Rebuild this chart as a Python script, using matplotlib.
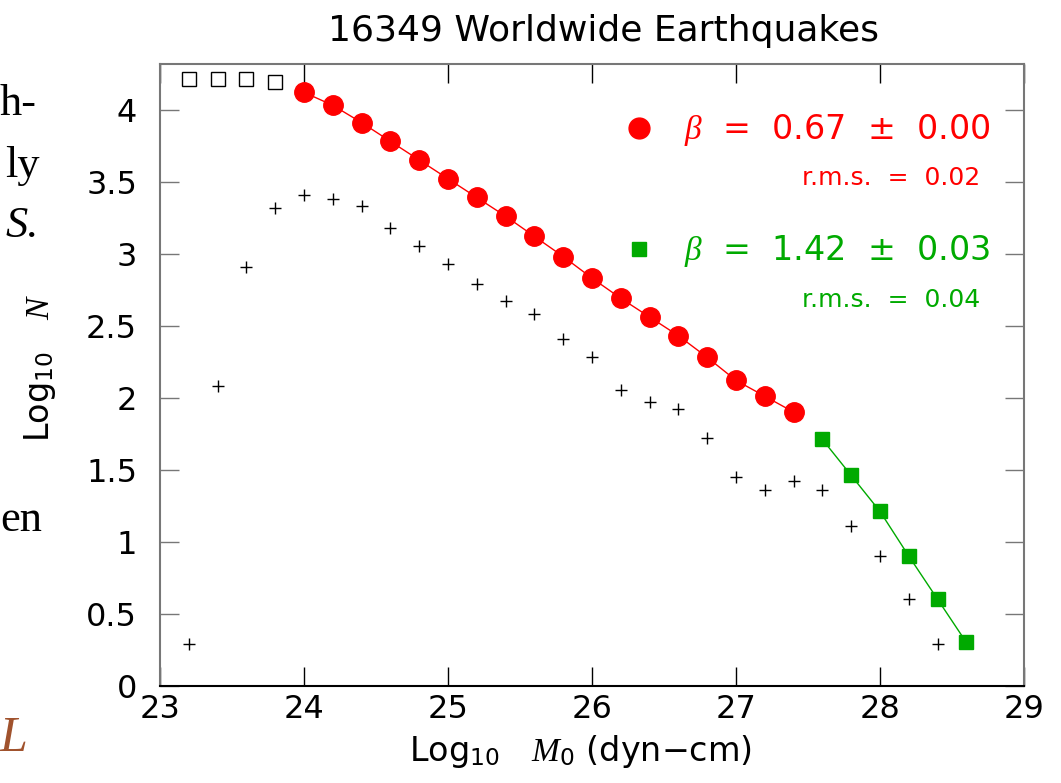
import matplotlib
matplotlib.use("Agg")
import matplotlib.pyplot as plt
from matplotlib.lines import Line2D

# cumulative counts (open squares = below completeness, red = fit 1, green = fit 2)
m_open = [23.2, 23.4, 23.6, 23.8]
logn_open = [4.21, 4.21, 4.21, 4.19]

m_red = [24.0, 24.2, 24.4, 24.6, 24.8, 25.0, 25.2, 25.4, 25.6,
         25.8, 26.0, 26.2, 26.4, 26.6, 26.8, 27.0, 27.2, 27.4]
logn_red = [4.12, 4.03, 3.91, 3.78, 3.65, 3.52, 3.39, 3.26, 3.12,
            2.98, 2.83, 2.69, 2.56, 2.43, 2.28, 2.12, 2.01, 1.90]

m_green = [27.6, 27.8, 28.0, 28.2, 28.4, 28.6]
logn_green = [1.71, 1.46, 1.21, 0.90, 0.60, 0.30]

# incremental counts per bin
m_inc = [23.2, 23.4, 23.6, 23.8, 24.0, 24.2, 24.4, 24.6, 24.8, 25.0,
         25.2, 25.4, 25.6, 25.8, 26.0, 26.2, 26.4, 26.6, 26.8, 27.0,
         27.2, 27.4, 27.6, 27.8, 28.0, 28.2, 28.4]
logn_inc = [0.29, 2.08, 2.91, 3.32, 3.41, 3.38, 3.33, 3.18, 3.05, 2.93,
            2.79, 2.67, 2.58, 2.41, 2.28, 2.05, 1.97, 1.92, 1.72, 1.45,
            1.36, 1.42, 1.36, 1.11, 0.90, 0.60, 0.29]

fit_labels = [r"$\beta$  =  0.67  $\pm$  0.00", r"$\beta$  =  1.42  $\pm$  0.03"]
rms_labels = ["r.m.s.  =  0.02", "r.m.s.  =  0.04"]
x_ticks = [23, 24, 25, 26, 27, 28, 29]
y_ticks = [0, 0.5, 1, 1.5, 2, 2.5, 3, 3.5, 4]

RED = "#ff0000"
GREEN = "#00aa00"

plt.rcParams['font.family'] = 'DejaVu Sans'
plt.rcParams['mathtext.fontset'] = 'custom'
plt.rcParams['mathtext.rm'] = 'DejaVu Sans'
plt.rcParams['mathtext.it'] = 'Liberation Serif:italic'
plt.rcParams['mathtext.sf'] = 'DejaVu Sans'

W, H = 1061, 783
fig = plt.figure(figsize=(W / 100, H / 100), dpi=100)
ax = fig.add_axes([160 / W, 1 - 685.7 / H, 864 / W, 621.7 / H])

ax.plot(m_inc, logn_inc, '+', color='black', ms=8, mew=1)
ax.plot(m_open, logn_open, 's', mfc='none', mec='black', ms=10, mew=1)
ax.plot(m_red, logn_red, '-o', color=RED, lw=1, ms=14, mec=RED)
ax.plot(m_green, logn_green, '-s', color=GREEN, lw=1, ms=10.3, mec=GREEN)

ax.set_xlim(23, 29)
ax.set_ylim(0, 4.317)
ax.set_xticks(x_ticks)
ax.set_yticks(y_ticks)
ax.set_yticklabels([f"{v:g}" for v in y_ticks])
ax.tick_params(direction='in', length=13.7, width=1, top=True, right=True,
               labelsize=23)
ax.tick_params(axis='x', pad=6)
ax.tick_params(axis='y', pad=16.5, color='#777777')
for side in ['left', 'right', 'top']:
    ax.spines[side].set_color('#777777')
    ax.spines[side].set_linewidth(1.5)
ax.spines['bottom'].set_linewidth(1.5)

# legend with the two fits
handles = [Line2D([], [], ls='none', marker='o', ms=15, color=RED),
           Line2D([], [], ls='none', marker='s', ms=10.5, color=GREEN)]
leg = ax.legend(handles, fit_labels, loc='upper right',
                bbox_to_anchor=(0.9606, 0.922), frameon=False, fontsize=24,
                handlelength=0.8, handletextpad=0.95, labelspacing=2.55,
                borderpad=0, borderaxespad=0, labelcolor=[RED, GREEN])
ax.text(0.949, 0.805, rms_labels[0], transform=ax.transAxes, ha='right',
        va='baseline', fontsize=18, color=RED)
ax.text(0.949, 0.6096, rms_labels[1], transform=ax.transAxes, ha='right',
        va='baseline', fontsize=18, color=GREEN)

fig.text(604 / W, 1 - 41 / H, "16349 Worldwide Earthquakes", ha='center',
         va='baseline', fontsize=26)
fig.text(581 / W, 1 - 761 / H, r"Log$_{10}$   $M_{\mathit{0}}$ (dyn−cm)",
         ha='center', va='baseline', fontsize=24)
fig.text(40 / W, 1 - 368 / H, r"Log$_{10}$   $N$", rotation=90,
         ha='center', va='center', fontsize=24)

# clipped slide text on the left edge
serif = 'Liberation Serif'
fig.text(37 / W, 1 - 115 / H, "h-", ha='right', va='baseline',
         fontsize=32, family=serif)
fig.text(40 / W, 1 - 177 / H, "ly", ha='right', va='baseline',
         fontsize=32, family=serif)
fig.text(39 / W, 1 - 237 / H, "S.", ha='right', va='baseline',
         fontsize=32, family=serif, style='italic')
fig.text(42 / W, 1 - 531 / H, "en", ha='right', va='baseline',
         fontsize=32, family=serif)
fig.text(0 / W, 1 - 751 / H, "L", ha='left', va='baseline',
         fontsize=36, family=serif, style='italic', color='#a0522d')

fig.savefig("out.png", dpi=100)
